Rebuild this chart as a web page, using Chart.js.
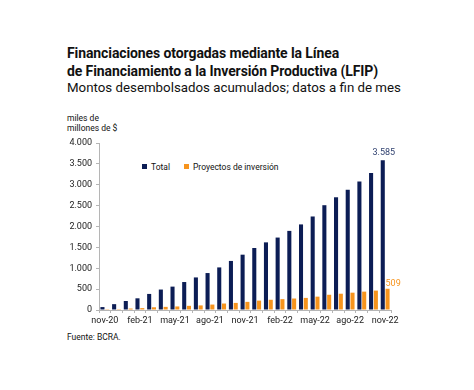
<!DOCTYPE html>
<html>
<head>
<meta charset="utf-8">
<script src="https://cdn.jsdelivr.net/npm/chart.js@4.4.1/dist/chart.umd.min.js"></script>
<style>
  html, body { margin: 0; padding: 0; background: #fff; }
  #wrap { position: relative; width: 474px; height: 390px; font-family: Roboto, sans-serif; color: #111; }
  .txt { position: absolute; left: 67px; white-space: nowrap; }
  #t1, #t2 { font-weight: bold; font-size: 14px; letter-spacing: -0.1px; }
  #t1 { top: 45px; }
  #t2 { top: 63px; }
  #t3 { top: 80px; font-size: 13.3px; }
  #unit { top: 113px; font-size: 8.5px; line-height: 10px; }
  #src { top: 332px; font-size: 8.5px; }
  #legend { position: absolute; left: 142px; top: 162px; font-size: 8.5px; display: flex; gap: 14px; }
  #legend span i { display: inline-block; width: 5px; height: 5px; margin-right: 4px; vertical-align: 1px; }
  canvas { position: absolute; left: 0; top: 0; }
</style>
</head>
<body>
<div id="wrap">
  <div class="txt" id="t1">Financiaciones otorgadas mediante la Línea</div>
  <div class="txt" id="t2">de Financiamiento a la Inversión Productiva (LFIP)</div>
  <div class="txt" id="t3">Montos desembolsados acumulados; datos a fin de mes</div>
  <div class="txt" id="unit">miles de<br>millones de $</div>
  <div id="legend">
    <span><i style="background:#0c1d55"></i>Total</span>
    <span><i style="background:#f7941d"></i>Proyectos de inversión</span>
  </div>
  <div class="txt" id="src">Fuente: BCRA.</div>
  <canvas id="chart" width="474" height="390"></canvas>
</div>
<script>
// meses nov-20 .. nov-22
const meses = ['nov-20', 'dic-20', 'ene-21', 'feb-21', 'mar-21', 'abr-21', 'may-21', 'jun-21', 'jul-21',
  'ago-21', 'sep-21', 'oct-21', 'nov-21', 'dic-21', 'ene-22', 'feb-22', 'mar-22', 'abr-22', 'may-22',
  'jun-22', 'jul-22', 'ago-22', 'sep-22', 'oct-22', 'nov-22'];

// miles de millones de $ (estimados del gráfico)
const total = [70, 140, 215, 280, 385, 490, 560, 670, 780, 885, 1020, 1175, 1325,
  1485, 1620, 1735, 1895, 2050, 2240, 2510, 2700, 2880, 3080, 3280, 3585];
const proyectos = [5, 20, 35, 45, 65, 75, 85, 100, 110, 130, 155, 170, 195,
  225, 245, 260, 275, 290, 320, 365, 390, 415, 440, 465, 509];

const yTicks = [0, 500, 1000, 1500, 2000, 2500, 3000, 3500, 4000];

const NAVY = '#0c1d55';
const ORANGE = '#f7941d';
const AXIS = '#b5b5b5';

const fmt = v => v.toLocaleString('de-DE');

// etiqueta del último valor de cada serie
const lastLabels = {
  id: 'lastLabels',
  afterDatasetsDraw(chart) {
    const ctx = chart.ctx;
    ctx.save();
    ctx.font = '9px Roboto';
    ctx.textBaseline = 'alphabetic';
    const n = meses.length - 1;
    const b0 = chart.getDatasetMeta(0).data[n];
    ctx.fillStyle = '#2e3f6e';
    ctx.textAlign = 'center';
    ctx.fillText(fmt(total[n]), b0.x + 1, b0.y - 5);
    const b1 = chart.getDatasetMeta(1).data[n];
    ctx.fillStyle = ORANGE;
    ctx.textAlign = 'left';
    ctx.fillText(fmt(proyectos[n]), b1.x - 2, b1.y - 3);
    ctx.restore();
  }
};

new Chart(document.getElementById('chart'), {
  type: 'bar',
  data: {
    labels: meses,
    datasets: [
      { label: 'Total', data: total, backgroundColor: NAVY, categoryPercentage: 0.82, barPercentage: 0.85 },
      { label: 'Proyectos de inversión', data: proyectos, backgroundColor: ORANGE, categoryPercentage: 0.82, barPercentage: 0.85 }
    ]
  },
  options: {
    responsive: false,
    animation: false,
    layout: { padding: { left: 0, right: 83, top: 143, bottom: 60 } },
    plugins: { legend: { display: false }, tooltip: { enabled: false } },
    scales: {
      x: {
        afterFit: s => { s.height = 20; },
        border: { color: AXIS },
        grid: { display: true, drawOnChartArea: false, color: AXIS, tickLength: 3, offset: true },
        ticks: {
          autoSkip: false, maxRotation: 0, padding: 2, color: '#222',
          font: { family: 'Roboto', size: 9 },
          callback: (v, i) => (i % 3 === 0 ? meses[i] : '')
        }
      },
      y: {
        min: 0, max: 4000,
        afterFit: s => { s.width = 99; },
        afterBuildTicks: s => { s.ticks = yTicks.map(v => ({ value: v })); },
        border: { color: AXIS },
        grid: { display: true, drawOnChartArea: false, color: AXIS, tickLength: 3 },
        ticks: { padding: 4, color: '#222', font: { family: 'Roboto', size: 9 }, callback: v => fmt(v) }
      }
    }
  },
  plugins: [lastLabels]
});
</script>
</body>
</html>
